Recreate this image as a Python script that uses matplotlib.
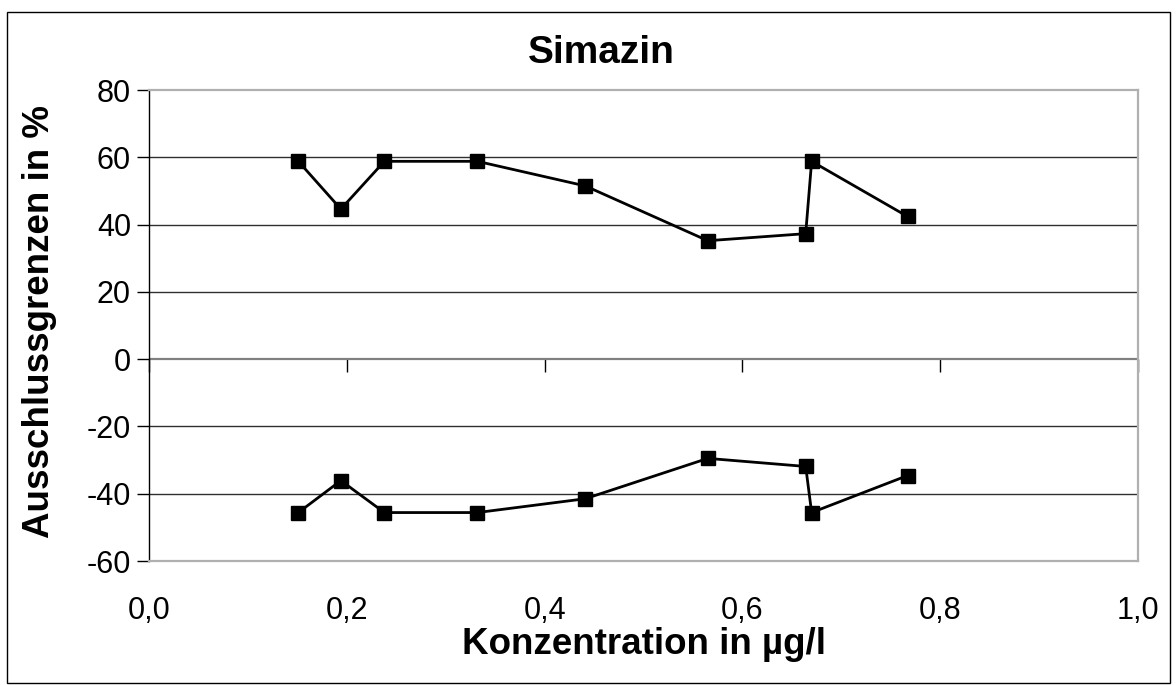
import matplotlib
matplotlib.use("Agg")
import matplotlib.pyplot as plt
from matplotlib.patches import Rectangle

plt.rcParams['font.family'] = ['Liberation Sans', 'DejaVu Sans']

konz = [0.151, 0.194, 0.238, 0.332, 0.441, 0.565, 0.664, 0.670, 0.767]
obere_grenze = [58.8, 44.6, 58.8, 58.8, 51.5, 35.2, 37.3, 58.8, 42.4]
untere_grenze = [-45.6, -36.1, -45.6, -45.6, -41.5, -29.5, -31.9, -45.6, -34.6]
y_ticks = [80, 60, 40, 20, 0, -20, -40, -60]
x_ticks = [0.0, 0.2, 0.4, 0.6, 0.8, 1.0]
x_labels = ['0,0', '0,2', '0,4', '0,6', '0,8', '1,0']

W, H = 1176, 685
fig = plt.figure(figsize=(W / 100, H / 100), dpi=100)
ax = fig.add_axes([149 / W, 1 - 561 / H, (1138 - 149) / W, (561 - 90) / H])

ax.set_xlim(0, 1.0)
ax.set_ylim(-60, 80)

for yv in y_ticks:
    if yv in (0, 80, -60):
        continue
    ax.axhline(yv, color='#303030', lw=1.0, zorder=1)
ax.axhline(0, color='#808080', lw=1.6, zorder=1)

for ys in (obere_grenze, untere_grenze):
    ax.plot(konz, ys, color='black', lw=2.0, marker='s', markersize=10.5,
            markerfacecolor='black', markeredgecolor='black', zorder=3, clip_on=False)

ax.set_yticks(y_ticks)
ax.set_yticklabels([str(v) for v in y_ticks])
ax.set_xticks(x_ticks)
ax.set_xticklabels(x_labels)
ax.tick_params(axis='y', direction='out', length=9, width=1, colors='black', labelsize=22, pad=4)
ax.tick_params(axis='x', length=0, labelsize=22, pad=25)

for side in ('top', 'right', 'bottom'):
    ax.spines[side].set_color('#b0b0b0')
    ax.spines[side].set_linewidth(1.6)
ax.spines['left'].set_color('black')
ax.spines['left'].set_linewidth(1.0)

# tick marks on the zero line
sec = ax.secondary_xaxis(60 / 140)
sec.set_xticks(x_ticks)
sec.tick_params(axis='x', direction='out', length=9, width=1, colors='black', labelbottom=False, labeltop=False,
                bottom=True, top=False)
sec.spines['bottom'].set_visible(False)
sec.spines['top'].set_visible(False)

fig.text(601 / W, 1 - 53 / H, 'Simazin', ha='center', va='center', fontsize=28, fontweight='bold')
fig.text((149 + 1138) / 2 / W, 1 - 644 / H, 'Konzentration in µg/l', ha='center', va='center',
         fontsize=26.5, fontweight='bold')
fig.text(40 / W, 1 - 322 / H, 'Ausschlussgrenzen in %', ha='center', va='center', rotation=90,
         fontsize=26.5, fontweight='bold')

fig.patches.append(Rectangle((7 / W, 1 - 683 / H), (1170 - 7) / W, (683 - 12) / H,
                             transform=fig.transFigure, fill=False, edgecolor='black', lw=1.0))

fig.savefig('out.png', dpi=100)
